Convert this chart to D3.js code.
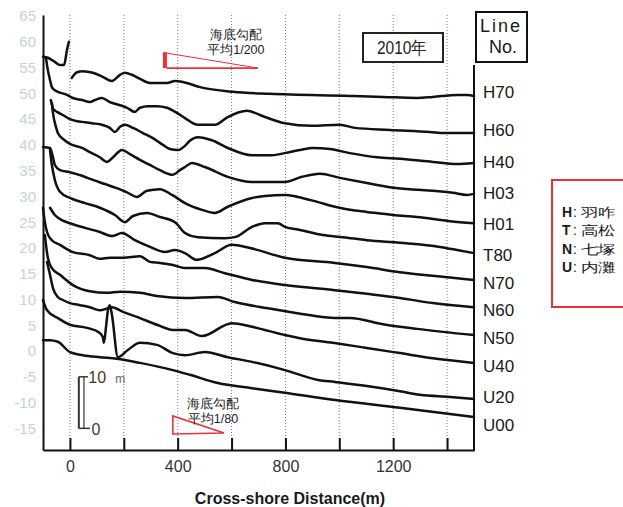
<!DOCTYPE html>
<html lang="ja">
<head>
<meta charset="utf-8">
<title>海浜断面 2010年</title>
<script src="https://cdn.jsdelivr.net/npm/d3@7/dist/d3.min.js"></script>
<style>
  html, body { margin: 0; padding: 0; background: #fff; }
  svg { display: block; }
  text { font-family: "Liberation Sans", Arial, sans-serif; }
</style>
</head>
<body>
<svg id="chart" width="623" height="507"></svg>
<script>
// Cross-shore distance ticks (m) and the ones that carry a label
const distTicks = [0, 200, 400, 600, 800, 1000, 1200, 1400];
const distLabels = [0, 400, 800, 1200];
// Elevation ticks of the stacked-profile axis (m)
const elevTicks = [65, 60, 55, 50, 45, 40, 35, 30, 25, 20, 15, 10, 5, 0, -5, -10, -15];

// Survey lines, top to bottom, and the level where each name is printed
const lineNames = ["H70", "H60", "H40", "H03", "H01", "T80", "N70", "N60", "N50", "U40", "U20", "U00"];
const nameLevels = [50.3, 42.9, 36.7, 30.7, 24.6, 18.6, 13.2, 8.0, 2.5, -2.9, -8.9, -14.4];

// Region codes used in the line names
const regionKeys = ["H", "T", "N", "U"];
const regionNames = ["羽咋", "高松", "七塚", "内灘"];

// Profiles: [distance (m), displayed elevation (m)]; null breaks the line
const H70 = [[-100,57.1],[-82,56.9],[-56,56.1],[-37,55.5],[-22,55.5],[-11,58.4],[-4,60.0],null,
  [7,53.0],[26,54.1],[48,54.3],[85,54.0],[122,53.2],[156,52.4],[186,53.6],[204,54.0],[230,53.6],
  [260,52.8],[297,52.0],[360,52.0],[390,52.4],[419,52.2],[483,51.2],[605,50.3],[742,49.9],
  [1039,49.5],[1162,49.3],[1288,49.1],[1347,49.3],[1437,49.7],[1474,49.7],[1500,49.5]];
const H60 = [[-89,56.9],[-82,54.5],[-74,52.6],[-67,51.2],[-56,50.6],[-45,50.3],[-11,49.7],[11,49.1],
  [45,48.7],[74,48.3],[93,48.7],[119,49.1],[148,48.3],[186,47.7],[212,47.2],[241,46.4],[260,47.2],
  [290,47.5],[323,47.5],[360,47.2],[397,46.2],[427,45.2],[475,43.9],[538,43.9],[586,45.4],[657,46.6],
  [724,45.4],[798,44.2],[898,43.7],[1002,43.9],[1058,43.3],[1188,42.9],[1336,42.5],[1392,42.3],[1500,42.3]];
const H40 = [[-71,48.7],[-67,47.9],[-63,47.0],[-48,46.4],[-26,45.8],[0,45.0],[26,44.6],[56,44.4],
  [82,44.2],[119,43.9],[148,43.3],[167,42.5],[186,43.5],[204,43.9],[234,43.3],[271,42.3],[308,41.3],
  [345,40.0],[371,39.2],[401,39.0],[427,39.8],[445,40.8],[475,41.5],[527,40.9],[586,39.4],[676,38.0],
  [750,38.0],[798,38.4],[854,39.0],[902,39.4],[965,39.2],[1039,38.4],[1140,37.6],[1225,37.3],
  [1347,36.7],[1437,36.3],[1500,36.5]];
const H03 = [[-67,48.1],[-63,46.2],[-52,43.5],[-45,42.3],[-22,41.0],[0,40.2],[45,39.4],[74,38.6],
  [111,37.6],[137,36.7],[160,37.6],[193,39.0],[223,38.2],[260,37.1],[297,36.1],[334,35.1],[382,34.2],
  [408,35.1],[427,35.7],[453,36.5],[501,35.7],[586,33.8],[676,32.8],[798,32.8],[861,33.8],[928,34.4],
  [1002,33.6],[1102,32.6],[1188,31.8],[1262,31.4],[1347,31.1],[1422,30.7],[1474,30.3],[1500,30.5]];
const H01 = [[-100,39.6],[-74,39.4],[-63,37.6],[-56,36.1],[-37,35.1],[0,34.7],[45,34.0],[85,33.2],
  [130,32.4],[174,31.6],[215,30.7],[249,29.9],[286,31.1],[334,31.4],[379,30.3],[427,28.7],[490,27.4],
  [538,26.8],[586,28.0],[676,29.7],[724,30.1],[798,30.3],[846,29.9],[921,28.9],[984,28.0],[1039,27.4],
  [1102,27.0],[1199,26.4],[1288,26.0],[1411,25.2],[1500,24.8]];
const T80 = [[-74,39.0],[-67,36.1],[-56,33.2],[-37,30.9],[0,29.7],[56,28.7],[111,27.8],[167,26.4],
  [204,25.0],[234,26.2],[286,26.8],[334,26.0],[390,25.0],[427,22.9],[475,22.1],[575,21.9],[612,22.1],
  [676,24.1],[724,24.8],[772,24.8],[798,24.1],[854,23.5],[939,22.5],[1013,22.1],[1102,21.5],
  [1225,21.0],[1373,20.2],[1437,19.6],[1500,19.0]];
const N70 = [[-74,27.8],[-56,26.4],[-30,25.4],[0,24.8],[56,23.9],[111,23.1],[156,22.3],[193,22.9],
  [241,21.5],[297,20.2],[353,19.2],[390,19.6],[427,19.0],[471,17.7],[538,19.0],[601,20.6],[668,20.0],
  [798,18.1],[984,17.1],[1102,16.3],[1225,15.3],[1347,14.6],[1500,13.8]];
const N60 = [[-100,27.8],[-93,25.0],[-85,23.1],[-67,21.5],[-37,20.6],[11,19.2],[74,18.6],[111,17.9],
  [148,18.1],[197,18.1],[260,18.4],[297,17.3],[334,17.1],[382,16.7],[427,16.1],[501,16.1],[575,15.1],
  [676,13.8],[798,12.8],[984,11.8],[1102,11.1],[1225,10.3],[1347,9.3],[1500,8.5]];
const N50 = [[-93,22.5],[-82,18.1],[-67,16.1],[-37,14.8],[11,12.8],[74,11.6],[137,11.3],[186,11.5],
  [260,11.3],[323,10.7],[427,10.3],[549,10.5],[612,9.5],[735,8.3],[861,7.2],[984,6.4],[1039,6.4],
  [1162,5.2],[1288,4.3],[1500,3.1]];
const U40 = [[-85,17.3],[-74,14.8],[-63,12.2],[-45,10.5],[-26,9.9],[0,9.3],[37,8.9],[74,8.5],
  [111,7.9],[141,8.3],[156,8.5],[197,7.6],[260,6.4],[323,5.1],[382,4.1],[427,4.1],[490,2.9],
  [601,5.4],[676,4.7],[798,3.1],[854,2.5],[976,1.6],[1102,0.6],[1225,-0.4],[1347,-1.4],[1500,-2.3]];
const U20 = [[-100,9.9],[-85,7.9],[-45,6.4],[0,5.1],[63,4.5],[111,3.5],[122,2.7],[126,1.6],[134,4.7],
  [141,7.9],[148,8.9],[156,7.0],[178,-1.2],[215,0.2],[260,1.6],[323,1.2],[382,-0.4],[427,-0.8],
  [501,-0.2],[586,-1.2],[676,-2.1],[798,-3.7],[921,-5.6],[984,-6.0],[1102,-6.8],[1225,-7.8],
  [1299,-8.5],[1411,-8.9],[1500,-9.3]];
const U00 = [[-100,2.1],[-74,2.1],[-45,1.8],[0,-0.2],[48,-0.8],[111,-1.2],[174,-1.5],[260,-2.3],
  [382,-3.7],[445,-4.6],[549,-6.2],[676,-7.2],[798,-8.1],[984,-9.5],[1225,-11.0],[1500,-12.8]];

const profiles = [H70, H60, H40, H03, H01, T80, N70, N60, N50, U40, U20, U00];

const JP = '"Noto Sans CJK JP", "Noto Sans CJK SC", sans-serif';
const RED = "#e8323a";
const INK = "#111";

const svg = d3.select("#chart");
const x = d3.scaleLinear().domain([-100, 1500]).range([43, 474]);
const y = d3.scaleLinear().domain([-19.2, 65.2]).range([450, 15]);
const [yBottom, yTop] = y.range();
const [xLeft, xRight] = x.range();

// dotted guides every 200 m
svg.append("g").selectAll("line").data(distTicks).join("line")
  .attr("x1", d => x(d)).attr("x2", d => x(d))
  .attr("y1", yTop).attr("y2", yBottom)
  .attr("stroke", "#6474d4").attr("stroke-width", 1)
  .attr("stroke-dasharray", "1 2");

// beach profiles
const profileLine = d3.line()
  .defined(d => d !== null)
  .x(d => x(d[0]))
  .y(d => y(d[1]))
  .curve(d3.curveMonotoneX);
svg.append("g")
  .attr("fill", "none").attr("stroke", INK).attr("stroke-width", 2.5)
  .attr("stroke-linejoin", "round").attr("stroke-linecap", "round")
  .selectAll("path").data(profiles).join("path")
  .attr("d", profileLine);

// distance axis
const gx = svg.append("g").attr("transform", `translate(0,${yBottom})`)
  .call(d3.axisBottom(x).tickValues(distTicks).tickSize(-12).tickSizeOuter(0).tickPadding(11)
    .tickFormat(d => distLabels.includes(d) ? d : ""));
gx.attr("font-family", null).attr("font-size", null);
gx.select(".domain").attr("stroke", INK).attr("stroke-width", 2);
gx.selectAll(".tick line").attr("stroke", INK).attr("stroke-width", 2);
gx.selectAll(".tick text").attr("fill", "#333").attr("font-size", 16);

// elevation axis
const gy = svg.append("g").attr("transform", `translate(${xLeft},0)`)
  .call(d3.axisLeft(y).tickValues(elevTicks).tickSize(0).tickSizeOuter(0).tickPadding(7)
    .tickFormat(d => String(d)));
gy.attr("font-family", null).attr("font-size", null);
gy.select(".domain").attr("stroke", INK).attr("stroke-width", 2);
gy.selectAll(".tick text").attr("fill", "#c4d3dd").attr("font-size", 15);

// right-hand frame with the line names
svg.append("line")
  .attr("x1", xRight).attr("x2", xRight).attr("y1", 65).attr("y2", yBottom + 1)
  .attr("stroke", INK).attr("stroke-width", 2);
svg.append("g").selectAll("text").data(lineNames).join("text")
  .attr("x", xRight + 9)
  .attr("y", (d, i) => y(nameLevels[i]) + 6)
  .attr("font-size", 17).attr("fill", "#1a1a1a")
  .text(d => d);

// "Line No." header
svg.append("rect").attr("x", 476).attr("y", 12).attr("width", 51).attr("height", 50)
  .attr("fill", "#fff").attr("stroke", INK).attr("stroke-width", 2);
svg.append("text").attr("x", 501).attr("y", 32).attr("text-anchor", "middle")
  .attr("font-size", 18).attr("letter-spacing", 2).attr("fill", "#1a1a1a").text("Line");
svg.append("text").attr("x", 503).attr("y", 53).attr("text-anchor", "middle")
  .attr("font-size", 18).attr("fill", "#1a1a1a").text("No.");

// survey year
svg.append("rect").attr("x", 363).attr("y", 33).attr("width", 80).attr("height", 29)
  .attr("fill", "#fff").attr("stroke", "#222").attr("stroke-width", 2);
svg.append("text").attr("x", 377).attr("y", 54)
  .attr("font-size", 18).attr("fill", "#222").attr("font-family", JP)
  .attr("textLength", 50).attr("lengthAdjust", "spacingAndGlyphs").text("2010年");

// offshore slope marker, 1/200
svg.append("rect")
  .attr("x", x(345)).attr("y", y(58.0))
  .attr("width", x(360) - x(345)).attr("height", y(54.9) - y(58.0))
  .attr("fill", RED);
svg.append("path")
  .attr("d", `M${x(360)},${y(57.8)}L${x(698)},${y(54.9)}`)
  .attr("stroke", RED).attr("stroke-width", 1).attr("fill", "none");
svg.append("path")
  .attr("d", `M${x(360)},${y(54.9)}L${x(698)},${y(54.9)}`)
  .attr("stroke", RED).attr("stroke-width", 1.8).attr("fill", "none");
svg.append("text").attr("x", x(616)).attr("y", y(60.5)).attr("text-anchor", "middle")
  .attr("font-family", JP).attr("font-size", 12.5).attr("fill", "#222").text("海底勾配");
svg.append("text").attr("x", x(616)).attr("y", y(57.6)).attr("text-anchor", "middle")
  .attr("font-family", JP).attr("font-size", 12.5).attr("fill", "#222").text("平均1/200");

// offshore slope marker, 1/80
svg.append("path")
  .attr("d", `M${x(382)},${y(-12.6)}L${x(382)},${y(-16.1)}L${x(572)},${y(-15.9)}Z`)
  .attr("stroke", RED).attr("stroke-width", 1.6).attr("fill", "none");
svg.append("text").attr("x", x(531)).attr("y", y(-11.0)).attr("text-anchor", "middle")
  .attr("font-family", JP).attr("font-size", 12.5).attr("fill", "#222").text("海底勾配");
svg.append("text").attr("x", x(531)).attr("y", y(-14.0)).attr("text-anchor", "middle")
  .attr("font-family", JP).attr("font-size", 12.5).attr("fill", "#222").text("平均1/80");

// vertical 10 m scale bar
const bar = svg.append("g").attr("stroke", "#333").attr("fill", "none");
bar.append("line").attr("x1", x(33)).attr("x2", x(33)).attr("y1", y(-5)).attr("y2", y(-15)).attr("stroke-width", 2);
bar.append("line").attr("x1", x(52)).attr("x2", x(52)).attr("y1", y(-5)).attr("y2", y(-15)).attr("stroke-width", 1.2);
bar.append("line").attr("x1", x(33)).attr("x2", x(67)).attr("y1", y(-5)).attr("y2", y(-5)).attr("stroke-width", 1.5);
bar.append("line").attr("x1", x(33)).attr("x2", x(74)).attr("y1", y(-15)).attr("y2", y(-15)).attr("stroke-width", 1.5);
svg.append("text").attr("x", x(68)).attr("y", y(-5) + 6).attr("font-size", 16).attr("fill", "#4a3826").text("10");
svg.append("text").attr("x", x(168)).attr("y", y(-5) + 6).attr("font-size", 12).attr("fill", "#7a6048").text("m");
svg.append("text").attr("x", x(80)).attr("y", y(-15) + 7).attr("font-size", 16).attr("fill", "#4a3826").text("0");

// axis title
svg.append("text").attr("x", 290).attr("y", 504).attr("text-anchor", "middle")
  .attr("font-family", '"Open Sans", sans-serif').attr("font-weight", 600)
  .attr("font-size", 16).attr("fill", "#1a1a1a").text("Cross-shore Distance(m)");

// region key: code letter, then the wide-set place name
svg.append("rect").attr("x", 552).attr("y", 180).attr("width", 100).attr("height", 127)
  .attr("fill", "#fff").attr("stroke", RED).attr("stroke-width", 2);
const keyRows = svg.append("g").selectAll("g").data(regionKeys).join("g")
  .attr("transform", (d, i) => `translate(562,${217 + i * 18.3})`);
const code = keyRows.append("text").attr("font-size", 14).attr("fill", "#1a1a1a");
code.append("tspan").attr("font-weight", 700).text(d => d);
code.append("tspan").attr("x", 11).text(":");
keyRows.append("text")
  .attr("transform", "translate(19,0) scale(1.35,1)")
  .attr("font-family", JP).attr("font-size", 12.6).attr("fill", "#1a1a1a")
  .text((d, i) => regionNames[i]);
</script>
</body>
</html>
